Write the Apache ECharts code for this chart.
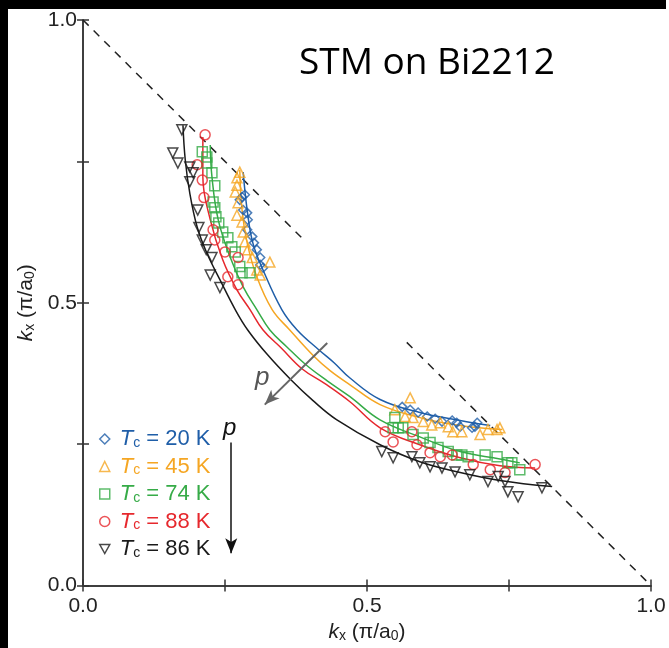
<!DOCTYPE html>
<html>
<head>
<meta charset="utf-8">
<script src="https://cdn.jsdelivr.net/npm/echarts@6/dist/echarts.min.js"></script>
<style>
html,body{margin:0;padding:0;background:#fff}
#chart{width:669px;height:648px}
</style>
</head>
<body>
<div id="chart"></div>
<script>
// ticks
var ticks = [0, 0.25, 0.5, 0.75, 1];
var tickLabels = ['0.0', '', '0.5', '', '1.0'];

// series (Tc values, colours, symbols)
var tcValues = ['20', '45', '74', '88', '86'];
var colors = ['#1f5ea8', '#f5a623', '#36ab47', '#e6282d', '#1a1a1a'];
var symbols = ['diamond', 'triangle', 'rect', 'circle', 'path://M0,0L10,0L5,9Z'];

// measured points
var pts20 = [[0.280,0.687],[0.285,0.691],[0.276,0.682],[0.282,0.664],[0.289,0.659],[0.290,0.647],[0.289,0.629],[0.298,0.617],[0.301,0.606],[0.306,0.594],[0.312,0.580],[0.312,0.567],[0.317,0.562],
  [0.562,0.316],[0.576,0.311],[0.590,0.306],[0.606,0.299],[0.620,0.295],[0.632,0.290],[0.650,0.292],[0.658,0.288],[0.664,0.281],[0.685,0.279],[0.690,0.281],[0.694,0.288]];
var pts45 = [[0.276,0.731],[0.271,0.721],[0.271,0.708],[0.268,0.696],[0.273,0.677],[0.271,0.655],[0.280,0.643],[0.282,0.625],[0.285,0.608],[0.290,0.594],[0.298,0.580],[0.329,0.572],[0.306,0.558],[0.312,0.549],
  [0.576,0.332],[0.549,0.311],[0.567,0.299],[0.581,0.297],[0.599,0.290],[0.614,0.284],[0.629,0.288],[0.643,0.281],[0.651,0.272],[0.667,0.272],[0.699,0.267],[0.713,0.276],[0.729,0.276],[0.734,0.279]];
var pts74 = [[0.210,0.767],[0.218,0.758],[0.218,0.747],[0.227,0.730],[0.232,0.707],[0.229,0.678],[0.232,0.668],[0.234,0.652],[0.239,0.641],[0.246,0.625],[0.255,0.615],[0.262,0.599],[0.268,0.590],[0.276,0.564],[0.280,0.553],[0.294,0.553],
  [0.549,0.297],[0.546,0.279],[0.555,0.279],[0.563,0.279],[0.581,0.267],[0.599,0.261],[0.611,0.253],[0.625,0.244],[0.643,0.237],[0.658,0.231],[0.667,0.231],[0.678,0.228],[0.708,0.231],[0.729,0.228],[0.748,0.217],[0.755,0.217],[0.769,0.205]];
var pts88 = [[0.215,0.797],[0.201,0.744],[0.210,0.717],[0.213,0.686],[0.229,0.629],[0.232,0.611],[0.250,0.590],[0.273,0.580],[0.255,0.546],[0.273,0.532],
  [0.532,0.272],[0.546,0.254],[0.579,0.272],[0.588,0.249],[0.611,0.235],[0.629,0.228],[0.650,0.231],[0.687,0.214],[0.717,0.205],[0.743,0.200],[0.796,0.214]];
var pts86 = [[0.174,0.806],[0.158,0.765],[0.167,0.747],[0.188,0.740],[0.194,0.730],[0.188,0.714],[0.202,0.664],[0.204,0.633],[0.210,0.611],[0.217,0.594],[0.227,0.580],[0.224,0.549],[0.241,0.527],
  [0.526,0.237],[0.546,0.226],[0.579,0.228],[0.593,0.217],[0.611,0.210],[0.632,0.208],[0.655,0.201],[0.681,0.196],[0.713,0.184],[0.731,0.193],[0.743,0.184],[0.748,0.166],[0.766,0.157],[0.808,0.173]];

// fitted contours
var fit20 = [[0.282,0.731],[0.289,0.664],[0.299,0.606],[0.317,0.558],[0.350,0.488],[0.377,0.452],[0.415,0.417],[0.442,0.394],[0.470,0.367],[0.523,0.329],[0.593,0.306],[0.664,0.292],[0.717,0.283]];
var fit45 = [[0.276,0.735],[0.280,0.664],[0.289,0.606],[0.306,0.546],[0.333,0.488],[0.364,0.452],[0.407,0.405],[0.435,0.380],[0.470,0.355],[0.523,0.320],[0.593,0.297],[0.664,0.283],[0.738,0.276]];
var fit74 = [[0.224,0.779],[0.227,0.723],[0.238,0.647],[0.259,0.581],[0.282,0.528],[0.306,0.488],[0.329,0.452],[0.359,0.422],[0.393,0.390],[0.430,0.362],[0.470,0.334],[0.523,0.293],[0.593,0.263],[0.664,0.237],[0.734,0.224],[0.769,0.217]];
var fit88 = [[0.211,0.793],[0.211,0.723],[0.224,0.647],[0.246,0.576],[0.271,0.523],[0.294,0.488],[0.317,0.452],[0.349,0.420],[0.386,0.383],[0.426,0.357],[0.470,0.325],[0.523,0.279],[0.593,0.249],[0.664,0.226],[0.734,0.212],[0.796,0.208]];
var fit86 = [[0.176,0.814],[0.180,0.753],[0.188,0.694],[0.201,0.634],[0.218,0.588],[0.241,0.541],[0.268,0.488],[0.290,0.452],[0.325,0.408],[0.366,0.364],[0.405,0.327],[0.447,0.293],[0.523,0.249],[0.593,0.219],[0.664,0.200],[0.734,0.186],[0.826,0.175]];

// zone boundary (dashed) pieces
var zb1 = [[0, 1], [0.39, 0.61]];
var zb2 = [[0.57, 0.43], [1, 0]];

var points = [pts20, pts45, pts74, pts88, pts86];
var fits = [fit20, fit45, fit74, fit88, fit86];

var font = 'Liberation Sans, Arial, sans-serif';
var chart = echarts.init(document.getElementById('chart'));

function tickFmt(v) {
  var i = ticks.indexOf(Math.round(v * 100) / 100);
  return i >= 0 ? tickLabels[i] : '';
}

var axisCommon = {
  type: 'value', min: 0, max: 1, interval: 0.25,
  splitLine: {show: false},
  axisLine: {lineStyle: {color: '#333', width: 1.5}},
  axisTick: {inside: true, length: 6, lineStyle: {color: '#333', width: 1.5}}
};

var nameRich = {
  i: {fontStyle: 'italic', fontSize: 21, fontFamily: font, color: '#222', lineHeight: 22},
  s: {fontSize: 14, fontFamily: font, color: '#222', lineHeight: 4, verticalAlign: 'bottom'},
  n: {fontSize: 21, fontFamily: font, color: '#222', lineHeight: 22}
};
var axisName = '{i|k}{s|x}{n| (π/a}{s|0}{n|)}';

var series = [];
var names = tcValues.map(function (t) { return 'Tc = ' + t + ' K'; });

fits.forEach(function (f, i) {
  series.push({
    name: 'fit' + i, type: 'line', data: f, smooth: 0.4, showSymbol: false, z: 2,
    lineStyle: {color: colors[i], width: 1.5}, silent: true
  });
});
points.forEach(function (p, i) {
  series.push({
    name: names[i], type: 'scatter', data: p, z: 3,
    symbol: symbols[i], symbolSize: i === 0 ? 9 : 10,
    itemStyle: {color: 'rgba(0,0,0,0)', borderColor: colors[i], borderWidth: 1.5}
  });
});
[zb1, zb2].forEach(function (z) {
  series.push({
    name: 'zb', type: 'line', data: z, showSymbol: false, silent: true, z: 1,
    lineStyle: {color: '#222', width: 1.5, type: [8, 7]}
  });
});
// doping arrows
series.push({
  name: 'arrows', type: 'line', data: [], silent: true,
  markLine: {
    silent: true, symbol: ['none', 'arrow'], symbolSize: [9, 15],
    label: {show: false},
    data: [
      [{coord: [0.43, 0.429], lineStyle: {color: '#666', width: 2, type: 'solid'}, itemStyle: {color: '#666'}}, {coord: [0.32, 0.32]}],
      [{coord: [0.261, 0.253], lineStyle: {color: '#111', width: 1.5, type: 'solid'}, itemStyle: {color: '#111'}}, {coord: [0.261, 0.057]}]
    ]
  }
});

chart.setOption({
  animation: false,
  backgroundColor: '#fff',
  grid: {left: 83, top: 20, right: 18, bottom: 62},
  title: {
    text: 'STM on Bi2212', left: 299, top: 45, padding: 0,
    textStyle: {fontFamily: 'Open Sans', fontSize: 37, fontWeight: 'normal', color: '#000'}
  },
  legend: {
    orient: 'vertical', left: 99, top: 428, itemWidth: 10, itemHeight: 10, itemGap: 5.5,
    padding: 0,
    data: names.map(function (n, i) { return {name: n, textStyle: {color: colors[i]}}; }),
    itemStyle: {borderWidth: 1.5},
    formatter: function (n) { return n.replace('Tc', '{t|T}{s|c}{n|') + '}'; },
    textStyle: {
      fontSize: 22, fontFamily: font,
      rich: {
        t: {fontStyle: 'italic', fontSize: 22, fontFamily: font, lineHeight: 22, padding: [0, 0, 0, 5]},
        s: {fontSize: 14, fontFamily: font, lineHeight: 4, verticalAlign: 'bottom'},
        n: {fontSize: 22, fontFamily: font, lineHeight: 22}
      }
    }
  },
  xAxis: [
    Object.assign({}, axisCommon, {
      position: 'bottom',
      axisLabel: {formatter: tickFmt, fontSize: 21, fontFamily: font, color: '#222', margin: 10},
      name: axisName, nameLocation: 'middle', nameGap: 34,
      nameTextStyle: {rich: nameRich}
    }),
    Object.assign({}, axisCommon, {position: 'top', axisLabel: {show: false}})
  ],
  yAxis: [
    Object.assign({}, axisCommon, {
      position: 'left',
      axisLabel: {formatter: tickFmt, fontSize: 21, fontFamily: font, color: '#222', margin: 6},
      name: axisName, nameLocation: 'middle', nameGap: 45,
      nameTextStyle: {rich: nameRich}
    }),
    Object.assign({}, axisCommon, {position: 'right', axisLabel: {show: false}})
  ],
  graphic: [
    {type: 'rect', shape: {x: 0, y: 0, width: 666, height: 9}, style: {fill: '#000'}, silent: true},
    {type: 'rect', shape: {x: 0, y: 0, width: 8, height: 648}, style: {fill: '#000'}, silent: true},
    {type: 'text', left: 255, top: 365, style: {text: 'p', font: 'italic 26px ' + font, fill: '#555'}, silent: true},
    {type: 'text', left: 223, top: 416, style: {text: 'p', font: 'italic 24px ' + font, fill: '#111'}, silent: true}
  ],
  series: series
});
</script>
</body>
</html>
